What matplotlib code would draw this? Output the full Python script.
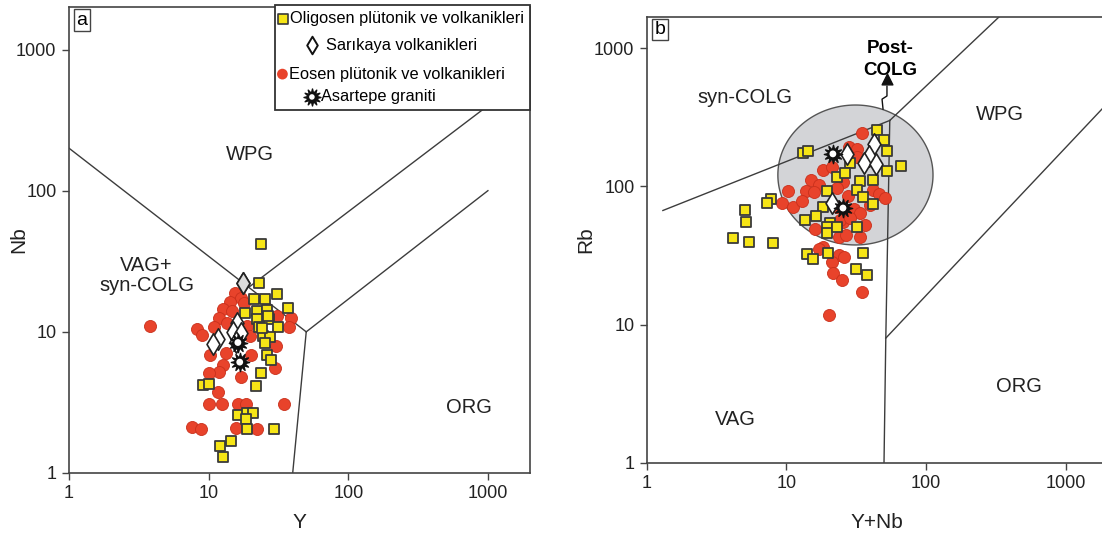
import numpy as np
import matplotlib.pyplot as plt
from matplotlib.patches import Rectangle

plt.rcParams['font.family'] = ['Liberation Sans', 'DejaVu Sans']

# ---- (a) Y - Nb ----
oli_y = [23.7, 22.9, 30.8, 21.1, 25.3, 37.0, 18.2, 22.1, 26.1, 22.1, 27.0, 31.4, 22.9, 24.5,
         27.5, 25.3, 26.1, 27.9, 23.7, 21.8, 9.05, 10.0, 16.2, 18.8, 20.7, 18.5, 18.8, 29.4,
         14.4, 12.0, 12.6, 26.6, 24.0]
oli_nb = [42.1, 22.3, 18.6, 17.1, 17.1, 14.8, 13.6, 14.1, 14.3, 12.4, 12.4, 10.8, 10.8, 9.4,
          9.2, 8.4, 6.9, 6.3, 5.1, 4.1, 4.2, 4.3, 2.58, 2.67, 2.67, 2.42, 2.05, 2.05,
          1.69, 1.55, 1.30, 13.0, 10.6]

eo_y = [15.4, 17.0, 14.2, 17.9, 12.6, 14.6, 11.8, 13.5, 10.9, 18.8, 8.2, 8.9, 19.7, 30.8,
        38.9, 37.6, 30.3, 10.3, 13.3, 20.0, 12.6, 11.8, 10.0, 29.8, 17.0, 11.6, 10.0, 12.4,
        16.2, 18.5, 34.7, 7.55, 8.76, 15.6, 22.1, 3.8]
eo_nb = [18.9, 17.4, 16.3, 16.1, 14.6, 14.1, 12.6, 11.6, 10.8, 11.0, 10.5, 9.5, 9.4, 13.0,
         12.6, 10.8, 8.0, 6.9, 7.1, 6.9, 5.8, 5.2, 5.1, 5.5, 4.8, 3.75, 3.1, 3.1,
         3.1, 3.1, 3.1, 2.12, 2.05, 2.08, 2.05, 11.0]

sar_y = [17.6, 15.9, 14.9, 17.0, 11.6, 10.7, 15.6]
sar_nb = [22.3, 11.6, 10.0, 9.8, 8.9, 8.2, 8.5]

asa_y = [16.2, 16.7]
asa_nb = [8.4, 6.1]

# ---- (b) Y+Nb - Rb ----
oli_ynb = [44.5, 50.0, 52.5, 66.2, 52.5, 13.1, 14.3, 28.5, 23.0, 26.3, 33.6, 41.7, 32.0, 35.3,
           41.7, 19.5, 18.3, 16.3, 13.6, 20.5, 19.5, 19.5, 23.0, 32.0, 7.74, 7.25, 5.04, 5.13,
           4.13, 5.39, 8.0, 14.0, 15.5, 19.8, 35.3, 31.5, 37.8]
oli_rb = [256, 217, 180, 141, 129, 175, 180, 148, 117, 125, 109, 111, 94.2, 83.8,
          74.6, 92.7, 71.0, 61.1, 57.2, 54.4, 50.9, 46.0, 50.9, 50.9, 81.1, 75.9, 67.5, 55.3,
          42.4, 39.6, 39.0, 32.5, 29.9, 33.0, 33.0, 25.3, 22.9]

eo_ynb = [34.8, 28.1, 32.0, 32.0, 18.3, 21.2, 25.4, 15.0, 17.1, 10.3, 13.8, 15.7, 9.28, 11.1,
          12.9, 23.0, 27.6, 41.7, 46.0, 50.8, 39.7, 30.5, 33.6, 25.4, 36.5, 23.8, 26.7, 33.6,
          16.0, 18.3, 17.1, 23.8, 25.8, 21.2, 21.5, 25.0, 34.8, 23.0, 24.2, 28.5, 20.2]
eo_rb = [243, 193, 186, 163, 131, 138, 108, 111, 102, 92.7, 92.7, 91.2, 75.9, 71.0,
         78.4, 97.3, 85.3, 94.2, 88.2, 82.4, 73.4, 68.7, 64.2, 55.3, 52.6, 43.1, 44.5, 43.1,
         49.2, 36.5, 35.3, 31.9, 30.9, 28.4, 23.7, 21.0, 17.2, 71.0, 57.2, 59.1, 11.7]

sar_ynb = [42.4, 27.2, 39.0, 35.9, 43.8, 21.2]
sar_rb = [203, 172, 166, 148, 145, 75.9]

asa_ynb = [21.5, 25.4]
asa_rb = [172, 69.8]

# discrimination boundaries (Pearce et al. 1984)
a_bounds = [([1, 50], [200, 10]),
            ([50, 1000], [10, 100]),
            ([40, 50], [1, 10]),
            ([19.4, 1000], [20.7, 400])]
b_bounds = [([1.3, 55], [67, 300]),
            ([55, 400], [300, 2000]),
            ([50, 51.5, 55], [1, 8, 300]),
            ([51.5, 2000], [8, 400])]

# post-collisional field
post_center = (31.2, 121)
post_half = (0.556, 0.506)   # half axes in decades

YELLOW = '#F6E516'
RED = '#E8432B'
EDGE = '#3a3a3a'
LINE = '#3c3c3c'

fig = plt.figure(figsize=(11.02, 5.35), dpi=100)
axa = fig.add_axes([0.0626, 0.1159, 0.4183, 0.8710])
axb = fig.add_axes([0.5871, 0.1346, 0.4179, 0.8336])


def setup(ax, ytop, xlabel, ylabel, xlab_y, ylab_x):
    ax.set_xscale('log')
    ax.set_yscale('log')
    ax.set_xlim(1, 2000)
    ax.set_ylim(1, ytop)
    ticks = [1, 10, 100, 1000]
    ax.set_xticks(ticks)
    ax.set_xticklabels([str(t) for t in ticks])
    ax.set_yticks(ticks)
    ax.set_yticklabels([str(t) for t in ticks])
    ax.minorticks_off()
    ax.tick_params(direction='out', length=5, width=1, color='#444', labelsize=13,
                   labelcolor='#222', pad=4)
    for s in ax.spines.values():
        s.set_color('#444')
        s.set_linewidth(1.2)
    ax.set_xlabel(xlabel, fontsize=15, color='#222')
    ax.set_ylabel(ylabel, fontsize=15, color='#222')
    ax.xaxis.set_label_coords(0.5, xlab_y)
    ax.yaxis.set_label_coords(ylab_x, 0.5)


def draw_points(ax, ex, ey, ox, oy, sx, sy, ax_, ay_):
    ax.scatter(ex, ey, s=75, c=RED, edgecolors='#c9301c', linewidths=0.6, zorder=3)
    ax.scatter(ox, oy, s=62, marker='s', c=YELLOW, edgecolors=EDGE, linewidths=1.3, zorder=4)
    ax.scatter(sx, sy, s=120, marker='d', c='white', edgecolors='#222', linewidths=1.2, zorder=5)
    ax.scatter(ax_, ay_, s=175, marker=(12, 1, 0), c='#111', edgecolors='#111', zorder=6)
    ax.scatter(ax_, ay_, s=24, marker='o', c='white', edgecolors='none', zorder=7)


setup(axa, 2000, 'Y', 'Nb', -0.086, -0.088)
setup(axb, 1680, 'Y+Nb', 'Rb', -0.112, -0.113)

for xs, ys in a_bounds:
    axa.plot(xs, ys, color=LINE, lw=1.0, zorder=1)
for xs, ys in b_bounds:
    axb.plot(xs, ys, color=LINE, lw=1.0, zorder=1)

# ellipse in log space
t = np.linspace(0, 2 * np.pi, 300)
ex = 10 ** (np.log10(post_center[0]) + post_half[0] * np.cos(t))
ey = 10 ** (np.log10(post_center[1]) + post_half[1] * np.sin(t))
axb.fill(ex, ey, facecolor='#d3d4d7', edgecolor='#555', lw=1.0, zorder=0.5)

draw_points(axa, eo_y, eo_nb, oli_y, oli_nb, sar_y, sar_nb, asa_y, asa_nb)
# the topmost Sarikaya sample is shaded grey
axa.scatter(sar_y[:1], sar_nb[:1], s=120, marker='d', c='#dcdcdc', edgecolors='#222',
            linewidths=1.2, zorder=5)
draw_points(axb, eo_ynb, eo_rb, oli_ynb, oli_rb, sar_ynb, sar_rb, asa_ynb, asa_rb)

# field names
fs = 14.5
axa.text(19.7, 180, 'WPG', fontsize=fs, ha='center', va='center', color='#222')
axa.text(3.6, 25, 'VAG+\nsyn-COLG', fontsize=fs, ha='center', va='center', color='#222',
         linespacing=1.1)
axa.text(730, 2.9, 'ORG', fontsize=fs, ha='center', va='center', color='#222')

axb.text(5.0, 440, 'syn-COLG', fontsize=fs, ha='center', va='center', color='#222')
axb.text(340, 330, 'WPG', fontsize=fs, ha='center', va='center', color='#222')
axb.text(4.3, 2.05, 'VAG', fontsize=fs, ha='center', va='center', color='#222')
axb.text(460, 3.55, 'ORG', fontsize=fs, ha='center', va='center', color='#222')
axb.text(55, 1000, 'Post-', fontsize=13.5, fontweight='bold', ha='center', va='center')
axb.text(55, 695, 'COLG', fontsize=13.5, fontweight='bold', ha='center', va='center')
# zig-zag arrow out of the post-COLG field
axb.plot([49.2, 48.4, 52.5, 52.5], [363, 428, 451, 530], color='#111', lw=1.0, zorder=6)
axb.scatter([52.5], [600], marker='^', s=60, c='#111', zorder=6)

# panel letters
for ax, letter in [(axa, 'a'), (axb, 'b')]:
    ax.text(0.028, 0.972, letter, transform=ax.transAxes, fontsize=14, ha='center',
            va='center', bbox=dict(boxstyle='square,pad=0.12', fc='white', ec='#444', lw=1))

# legend box
axa.add_patch(Rectangle((0.447, 0.779), 0.553, 0.225, transform=axa.transAxes,
                        fc='white', ec='#333', lw=1.3, zorder=8, clip_on=False))
leg_fs = 11.8
axa.scatter([0.464], [0.975], transform=axa.transAxes, s=55, marker='s', c=YELLOW,
            edgecolors=EDGE, linewidths=1.2, zorder=9, clip_on=False)
axa.text(0.480, 0.975, 'Oligosen plütonik ve volkanikleri', transform=axa.transAxes,
         fontsize=leg_fs, va='center', zorder=9)
axa.scatter([0.527], [0.918], transform=axa.transAxes, s=80, marker='d', c='white',
            edgecolors='#111', linewidths=1.4, zorder=9, clip_on=False)
axa.text(0.558, 0.918, 'Sarıkaya volkanikleri', transform=axa.transAxes,
         fontsize=leg_fs, va='center', zorder=9)
axa.scatter([0.463], [0.856], transform=axa.transAxes, s=60, marker='o', c=RED,
            edgecolors='none', zorder=9, clip_on=False)
axa.text(0.477, 0.856, 'Eosen plütonik ve volkanikleri', transform=axa.transAxes,
         fontsize=leg_fs, va='center', zorder=9)
axa.scatter([0.527], [0.807], transform=axa.transAxes, s=150, marker=(12, 1, 0), c='#111',
            zorder=9, clip_on=False)
axa.scatter([0.527], [0.807], transform=axa.transAxes, s=16, marker='o', c='white',
            edgecolors='none', zorder=10, clip_on=False)
axa.text(0.547, 0.807, 'Asartepe graniti', transform=axa.transAxes,
         fontsize=leg_fs, va='center', zorder=9)

fig.savefig('out.png', dpi=100)
